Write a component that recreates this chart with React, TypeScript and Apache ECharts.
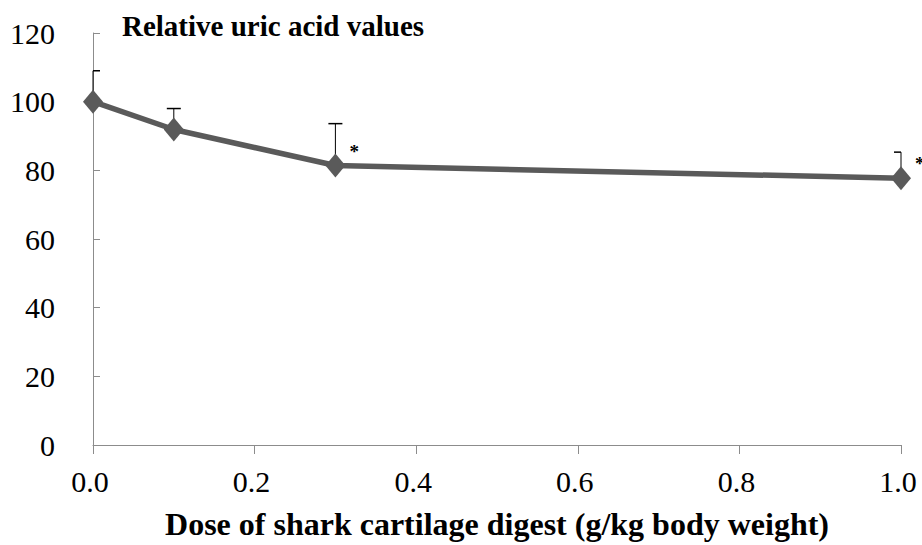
import React, { useEffect, useRef } from "react";
import * as echarts from "echarts";

const doses = [0.0, 0.1, 0.3, 1.0];
const values = [100, 91.9, 81.4, 77.7];
const errUpper = [109, 98, 93.6, 85.3];
const stars = ["", "", "*", "*"];
const xTicks = [0, 0.2, 0.4, 0.6, 0.8, 1.0];
const yTicks = [0, 20, 40, 60, 80, 100, 120];

const FONT = "Liberation Serif";

export default function App() {
  const ref = useRef<HTMLDivElement>(null);
  useEffect(() => {
    if (!ref.current) return;
    const chart = echarts.init(ref.current, null, { renderer: "svg" });
    const lineData = doses.map((d, i) => [d, values[i]]);
    const errData = doses.map((d, i) => [d, values[i], errUpper[i], stars[i]]);
    chart.setOption({
      animation: false,
      backgroundColor: "#ffffff",
      grid: { left: 93, right: 21, top: 33, bottom: 99, containLabel: false },
      graphic: [
        {
          type: "text",
          left: 122,
          top: 11,
          style: {
            text: "Relative uric acid values",
            fontFamily: FONT,
            fontWeight: "bold",
            fontSize: 29,
            fill: "#000",
          },
        },
      ],
      xAxis: {
        type: "value",
        min: 0,
        max: 1,
        interval: 0.2,
        name: "Dose of shark cartilage digest (g/kg body weight)",
        nameLocation: "middle",
        nameGap: 63,
        nameTextStyle: { fontFamily: FONT, fontWeight: "bold", fontSize: 32, color: "#000" },
        axisLine: { show: true, lineStyle: { color: "#8c8c8c", width: 1 } },
        axisTick: { show: true, length: 9, lineStyle: { color: "#8c8c8c" } },
        splitLine: { show: false },
        axisLabel: {
          fontFamily: FONT,
          fontSize: 30,
          color: "#000",
          margin: 21,
          padding: [0, 6, 0, 0],
          formatter: (v: number) => {
            const t = xTicks.find((x) => Math.abs(x - v) < 1e-9);
            return t === undefined ? "" : t.toFixed(1);
          },
        },
      },
      yAxis: {
        type: "value",
        min: 0,
        max: 120,
        interval: 20,
        axisLine: { show: true, lineStyle: { color: "#8c8c8c", width: 1 } },
        axisTick: { show: true, inside: true, length: 7, lineStyle: { color: "#8c8c8c" } },
        splitLine: { show: false },
        axisLabel: {
          fontFamily: FONT,
          fontSize: 30,
          color: "#000",
          margin: 38,
          formatter: (v: number) => (yTicks.includes(v) ? String(v) : ""),
        },
      },
      series: [
        {
          type: "custom",
          z: 1,
          clip: false,
          data: errData,
          renderItem: (params: any, api: any) => {
            const cs = params.coordSys;
            const x = api.value(0);
            const lo = api.coord([x, api.value(1)]);
            const hi = api.coord([x, api.value(2)]);
            const star = String(api.value(3) || "");
            const cap = 7;
            const cx1 = Math.max(cs.x, hi[0] - cap);
            const cx2 = Math.min(cs.x + cs.width, hi[0] + cap);
            const children: any[] = [
              {
                type: "line",
                shape: { x1: lo[0], y1: lo[1], x2: hi[0], y2: hi[1] },
                style: { stroke: "#000", lineWidth: 1 },
              },
              {
                type: "line",
                shape: { x1: cx1, y1: hi[1], x2: cx2, y2: hi[1] },
                style: { stroke: "#000", lineWidth: 1.5 },
              },
            ];
            if (star) {
              children.push({
                type: "text",
                x: lo[0] + 14,
                y: lo[1] - 24,
                style: { text: star, fontFamily: FONT, fontWeight: "bold", fontSize: 19, fill: "#000" },
              });
            }
            return { type: "group", children };
          },
        },
        {
          type: "line",
          z: 3,
          data: lineData,
          symbol: "diamond",
          symbolSize: [20, 24],
          lineStyle: { color: "#5a5a5a", width: 5.5 },
          itemStyle: { color: "#5a5a5a" },
          clip: false,
        },
      ],
    });
    return () => chart.dispose();
  }, []);
  return <div ref={ref} style={{ width: 922, height: 545, position: "absolute", left: 0, top: 0 }} />;
}
